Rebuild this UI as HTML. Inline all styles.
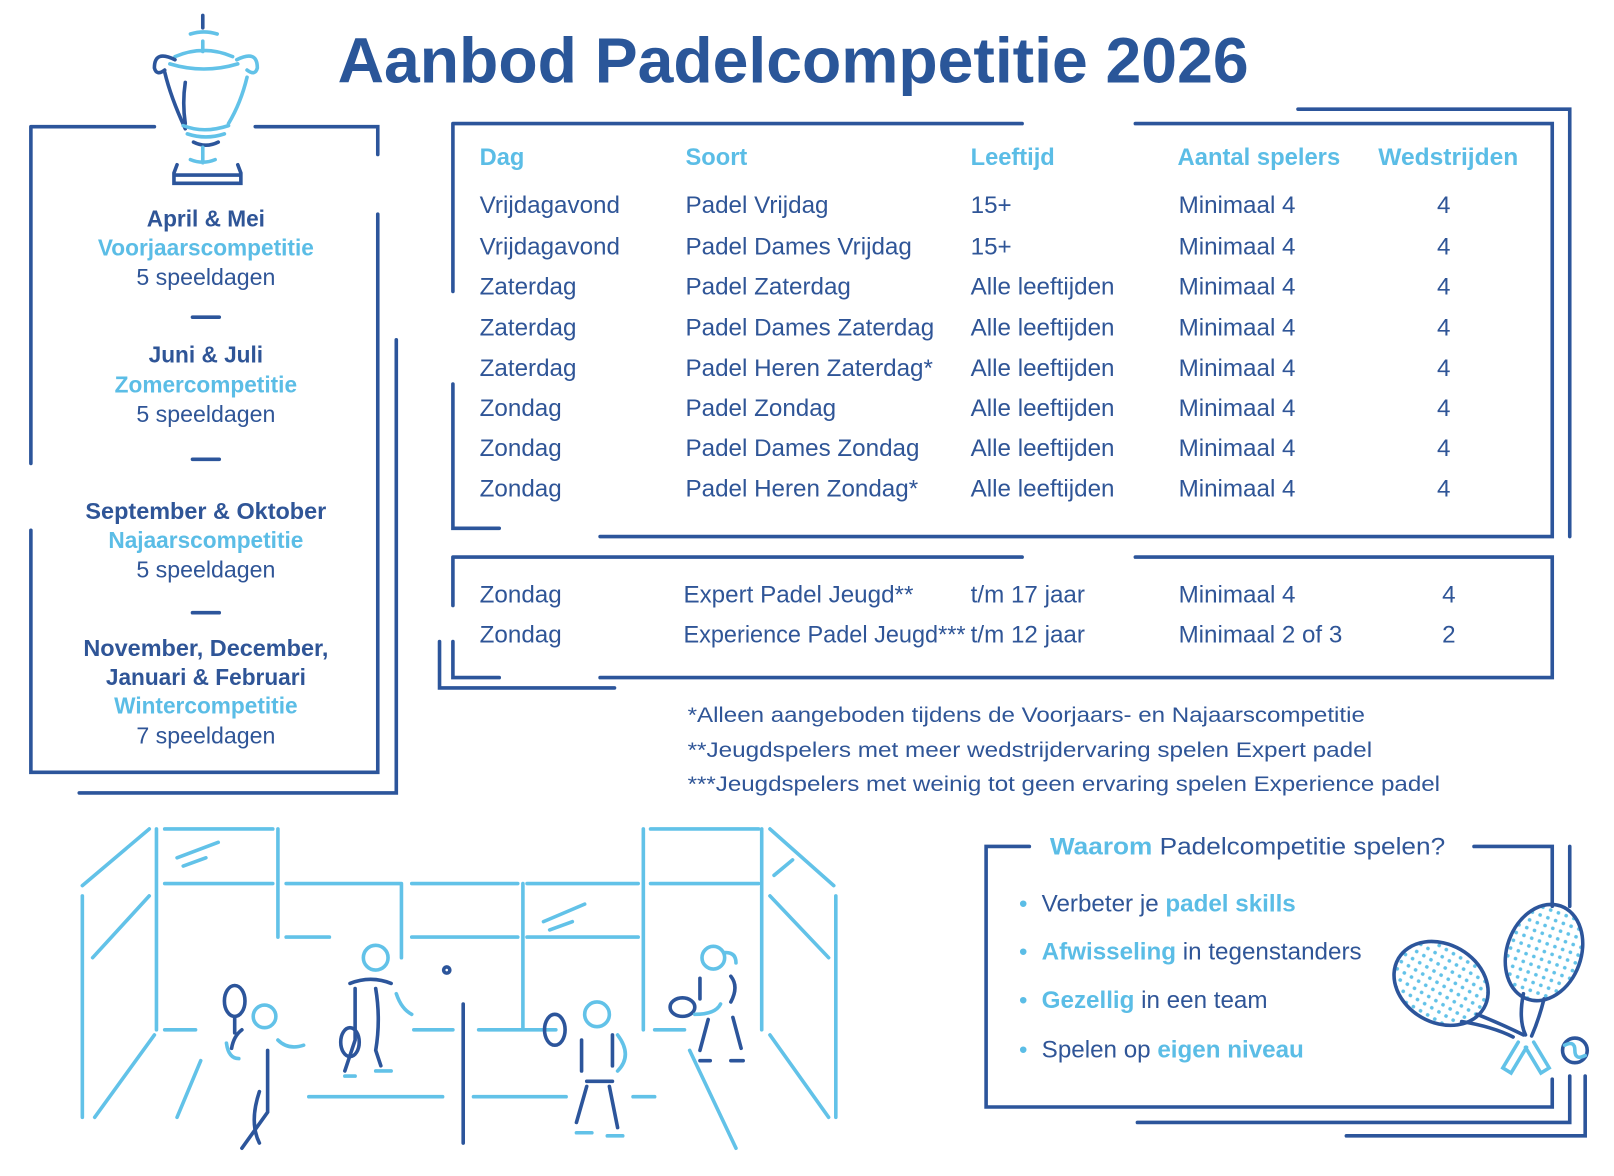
<!DOCTYPE html>
<html><head><meta charset="utf-8"><style>
html,body{margin:0;padding:0;background:#fff;width:1614px;height:1176px;overflow:hidden}
svg{display:block}
text{font-family:"Liberation Sans",sans-serif}
.t{font-size:23.5px;fill:#2f5597}
.h{font-size:23px;fill:#5bbde6;font-weight:bold}
.c{font-size:22.5px;fill:#2f5597;text-anchor:middle}
.cb{font-size:22px;fill:#2f5597;text-anchor:middle;font-weight:bold}
.cl{font-size:22px;fill:#5bbde6;text-anchor:middle;font-weight:bold}
.d{stroke:#2c559b;stroke-width:3.5;fill:none;stroke-linecap:round}
.l{stroke:#62c2e8;stroke-width:3.5;fill:none;stroke-linecap:round}
</style></head><body>
<svg width="1614" height="1176" viewBox="0 0 1568 1142" preserveAspectRatio="none">
<text x="328" y="80" font-size="62" font-weight="bold" fill="#2a5699" textLength="885" lengthAdjust="spacingAndGlyphs">Aanbod Padelcompetitie 2026</text>

<!-- trophy -->
<g>
<path class="d" d="M197 15 v12"/><path class="l" d="M185 33 q13 -4 26 0 M197 40 v10 M170 55 q28 -12 56 0 M165 62 q33 10 66 0"/>
<path class="d" d="M170 58 q-20 -10 -20 8 q2 8 10 2 M160 70 q6 25 20 55"/>
<path class="l" d="M230 58 q20 -10 20 8 q-2 8 -10 2 M240 75 q-6 25 -18 45"/>
<path class="d" d="M180 80 q-3 20 0 40"/>
<path class="l" d="M178 122 q20 8 44 0 M182 130 q18 6 36 0"/>
<path class="d" d="M188 138 q12 6 24 0"/><path class="l" d="M197 143 v15 M185 155 q12 5 24 0"/>
<path class="d" d="M172 160 l-3 8 v10 h65 v-10 l-3 -8 M169 170 h65"/>
</g>

<!-- left box -->
<path class="d" d="M30 123 H150 M248 123 H367 V150 M367 208 V750 H30 V515 M30 450 V123 M385 330 V770 H77"/>
<text x="200" y="220" class="cb">April &amp; Mei</text>
<text x="200" y="248" class="cl">Voorjaarscompetitie</text>
<text x="200" y="277" class="c">5 speeldagen</text>
<path class="d" d="M187 308 h26"/>
<text x="200" y="352" class="cb">Juni &amp; Juli</text>
<text x="200" y="381" class="cl">Zomercompetitie</text>
<text x="200" y="410" class="c">5 speeldagen</text>
<path class="d" d="M187 446 h26"/>
<text x="200" y="504" class="cb" textLength="234" lengthAdjust="spacingAndGlyphs">September &amp; Oktober</text>
<text x="200" y="532" class="cl">Najaarscompetitie</text>
<text x="200" y="561" class="c">5 speeldagen</text>
<path class="d" d="M187 595 h26"/>
<text x="200" y="637" class="cb" textLength="238" lengthAdjust="spacingAndGlyphs">November, December,</text>
<text x="200" y="665" class="cb">Januari &amp; Februari</text>
<text x="200" y="693" class="cl">Wintercompetitie</text>
<text x="200" y="722" class="c">7 speeldagen</text>

<!-- main table -->
<path class="d" d="M440 120 H993 M1103 120 H1508 V521 H583 M485 513 H440 V373 M440 283 V120 M1261 106 H1525 V521"/>
<g class="h"><text x="466" y="160">Dag</text><text x="666" y="160">Soort</text><text x="943" y="160">Leeftijd</text><text x="1144" y="160" textLength="158" lengthAdjust="spacingAndGlyphs">Aantal spelers</text><text x="1339" y="160" textLength="136" lengthAdjust="spacingAndGlyphs">Wedstrijden</text></g>
<g class="t">
<text x="466" y="207">Vrijdagavond</text><text x="666" y="207">Padel Vrijdag</text><text x="943" y="207">15+</text><text x="1145" y="207">Minimaal 4</text><text x="1396" y="207">4</text>
<text x="466" y="247">Vrijdagavond</text><text x="666" y="247">Padel Dames Vrijdag</text><text x="943" y="247">15+</text><text x="1145" y="247">Minimaal 4</text><text x="1396" y="247">4</text>
<text x="466" y="286">Zaterdag</text><text x="666" y="286">Padel Zaterdag</text><text x="943" y="286">Alle leeftijden</text><text x="1145" y="286">Minimaal 4</text><text x="1396" y="286">4</text>
<text x="466" y="326">Zaterdag</text><text x="666" y="326">Padel Dames Zaterdag</text><text x="943" y="326">Alle leeftijden</text><text x="1145" y="326">Minimaal 4</text><text x="1396" y="326">4</text>
<text x="466" y="365">Zaterdag</text><text x="666" y="365">Padel Heren Zaterdag*</text><text x="943" y="365">Alle leeftijden</text><text x="1145" y="365">Minimaal 4</text><text x="1396" y="365">4</text>
<text x="466" y="404">Zondag</text><text x="666" y="404">Padel Zondag</text><text x="943" y="404">Alle leeftijden</text><text x="1145" y="404">Minimaal 4</text><text x="1396" y="404">4</text>
<text x="466" y="443">Zondag</text><text x="666" y="443">Padel Dames Zondag</text><text x="943" y="443">Alle leeftijden</text><text x="1145" y="443">Minimaal 4</text><text x="1396" y="443">4</text>
<text x="466" y="482">Zondag</text><text x="666" y="482">Padel Heren Zondag*</text><text x="943" y="482">Alle leeftijden</text><text x="1145" y="482">Minimaal 4</text><text x="1396" y="482">4</text>
</g>

<!-- second table -->
<path class="d" d="M440 541 H993 M1103 541 H1508 V658 H583 M485 658 H440 V623 M440 588 V541 M427 623 V668 H597"/>
<g class="t">
<text x="466" y="585">Zondag</text><text x="664" y="585">Expert Padel Jeugd**</text><text x="943" y="585">t/m 17 jaar</text><text x="1145" y="585">Minimaal 4</text><text x="1401" y="585">4</text>
<text x="466" y="624">Zondag</text><text x="664" y="624" textLength="274" lengthAdjust="spacingAndGlyphs">Experience Padel Jeugd***</text><text x="943" y="624">t/m 12 jaar</text><text x="1145" y="624" textLength="159" lengthAdjust="spacingAndGlyphs">Minimaal 2 of 3</text><text x="1401" y="624">2</text>
</g>
<g class="t">
<text x="668" y="701" style="font-size:21px" textLength="658" lengthAdjust="spacingAndGlyphs">*Alleen aangeboden tijdens de Voorjaars- en Najaarscompetitie</text>
<text x="668" y="735" style="font-size:21px" textLength="665" lengthAdjust="spacingAndGlyphs">**Jeugdspelers met meer wedstrijdervaring spelen Expert padel</text>
<text x="668" y="768" style="font-size:21px" textLength="731" lengthAdjust="spacingAndGlyphs">***Jeugdspelers met weinig tot geen ervaring spelen Experience padel</text>
</g>

<!-- waarom box -->
<path class="d" d="M1000 822 H958 V1075 H1508 V1048 M1508 880 V822 H1432 M1525 822 V880 M1525 1045 V1090 H1105 M1540 1045 V1103 H1308"/>
<text x="1020" y="830" style="font-size:23.5px" textLength="384" lengthAdjust="spacingAndGlyphs"><tspan fill="#5bbde6" font-weight="bold">Waarom</tspan><tspan fill="#2f5597"> Padelcompetitie spelen?</tspan></text>
<g style="font-size:23.5px">
<text x="990" y="885" fill="#5bbde6">•</text><text x="1012" y="885"><tspan fill="#2f5597">Verbeter je </tspan><tspan fill="#5bbde6" font-weight="bold">padel skills</tspan></text>
<text x="990" y="932" fill="#5bbde6">•</text><text x="1012" y="932"><tspan fill="#5bbde6" font-weight="bold">Afwisseling</tspan><tspan fill="#2f5597"> in tegenstanders</tspan></text>
<text x="990" y="979" fill="#5bbde6">•</text><text x="1012" y="979"><tspan fill="#5bbde6" font-weight="bold">Gezellig</tspan><tspan fill="#2f5597"> in een team</tspan></text>
<text x="990" y="1027" fill="#5bbde6">•</text><text x="1012" y="1027"><tspan fill="#2f5597">Spelen op </tspan><tspan fill="#5bbde6" font-weight="bold">eigen niveau</tspan></text>
</g>
<!-- rackets -->
<defs><pattern id="dots" width="8" height="8" patternUnits="userSpaceOnUse"><circle cx="4" cy="4" r="1.8" fill="#62c2e8"/></pattern></defs>
<ellipse cx="1400" cy="955" rx="48" ry="38" transform="rotate(30 1400 955)" class="d" style="fill:url(#dots)"/>
<path class="d" d="M1435 985 q25 10 45 20 M1420 992 q30 5 50 15"/>
<ellipse cx="1500" cy="925" rx="36" ry="48" transform="rotate(20 1500 925)" class="d" style="fill:url(#dots)"/>
<path class="d" d="M1480 965 q-5 25 2 40 M1500 970 q-5 20 -12 36"/>
<path class="l" d="M1475 1012 l-15 25 l8 5 l15 -25 M1490 1012 l15 25 l-8 5 l-15 -25"/>
<circle cx="1530" cy="1020" r="12" class="d"/><path class="l" d="M1520 1015 q10 -5 10 5 q0 10 10 5"/>

<!-- court -->
<g class="l">
<path d="M80 860 L145 805 M80 870 V1085 M152 805 V1000 M160 805 H265 M270 805 V910 M160 858 H265 M278 858 H390 M400 858 H503 M512 858 H620 M632 858 H737 M390 858 V930 M508 858 V1000 M625 805 V1000 M632 805 H737 M740 805 V1000 M748 805 L810 860 M812 870 V1085 M748 870 L805 930 M90 930 L145 870 M278 910 H320 M400 910 H503 M512 910 H620 M160 1000 H190 M402 1000 H440 M465 1000 H540 M636 1000 H665 M150 1005 L92 1085 M748 1005 L805 1085 M670 1020 L715 1115 M300 1065 H430 M460 1065 H550 M615 1065 H636 M195 1030 L172 1085"/>
<path d="M172 833 L212 818 M178 841 L200 833 M528 895 L568 878 M534 903 L556 895 M752 850 L770 835"/>
</g>
<path class="d" d="M450 975 V1110"/>
<!-- players -->
<g>
<ellipse cx="228" cy="972" rx="10" ry="15" class="d"/><path class="d" d="M228 988 v15 M235 1000 q-8 6 -10 18 M260 1020 v60 l-25 35 M252 1060 q-10 30 0 50"/>
<circle cx="257" cy="987" r="11" class="l"/><path class="l" d="M270 1010 q10 10 25 5 M232 1028 q-10 0 -12 -15"/>
<circle cx="365" cy="930" r="12" class="l"/><path class="d" d="M340 955 q20 -8 40 0 M345 960 v50 M365 960 q5 30 0 60 l5 15 M345 1010 l-10 30"/><ellipse cx="340" cy="1012" rx="9" ry="14" class="d"/><path class="l" d="M385 965 q5 15 15 20 M335 1045 h10 M365 1040 h15"/>
<circle cx="434" cy="942" r="3" class="d"/>
<ellipse cx="539" cy="1000" rx="10" ry="15" class="d"/><circle cx="580" cy="985" r="12" class="l"/><path class="d" d="M565 1010 v30 M595 1005 v30 M570 1050 h25 M570 1055 l-10 35 M592 1055 l8 40"/><path class="l" d="M600 1005 q15 20 0 35 M560 1100 h15 M590 1103 h15"/>
<circle cx="693" cy="930" r="11" class="l"/><path class="l" d="M705 925 q10 0 10 10"/><path class="d" d="M680 950 v20 M710 948 q8 10 0 25 M688 990 l-8 30 M712 988 l8 30 M680 1030 h10 M710 1030 h12"/><ellipse cx="663" cy="978" rx="12" ry="9" class="d"/><path class="l" d="M675 985 q20 0 25 -10"/>
</g>
</svg>
</body></html>
